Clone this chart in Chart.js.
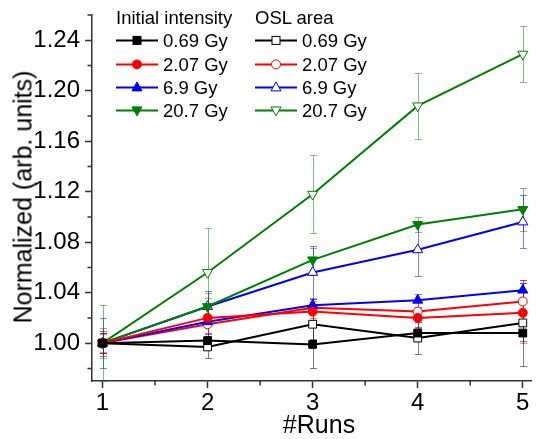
<!DOCTYPE html>
<html>
<head>
<meta charset="utf-8">
<script src="https://cdn.jsdelivr.net/npm/chart.js@4.4.1/dist/chart.umd.min.js"></script>
<style>
  html, body { margin: 0; padding: 0; background: #fff; overflow: hidden; }
  #wrap { position: relative; width: 538px; height: 439px; font-family: 'Liberation Sans', Arial, sans-serif; color: #000; }
  #chart { position: absolute; left: 0; top: 0; }
  .ytitle { position: absolute; left: 23px; top: 197px; font-size: 25px; line-height: 1; white-space: nowrap; transform: translate(-50%, -50%) rotate(-90deg); }
  .xtitle { position: absolute; left: 319px; top: 412px; font-size: 25px; line-height: 1; white-space: nowrap; transform: translateX(-50%); }
  .legend { position: absolute; left: 116px; top: 6px; font-size: 18.5px; line-height: 23.3px; }
  .col { position: absolute; top: 0; white-space: nowrap; }
  .row { display: flex; align-items: flex-start; height: 23.3px; }
  .row svg { flex: none; margin-right: 5px; }
</style>
</head>
<body>
<div id="wrap">
  <canvas id="chart" width="538" height="439"></canvas>
  <div class="ytitle">Normalized (arb. units)</div>
  <div class="xtitle">#Runs</div>
  <div class="legend" id="legend"></div>
</div>

<script>
// runs and dose labels
const runs = [1, 2, 3, 4, 5];
const doses = ['0.69 Gy', '2.07 Gy', '6.9 Gy', '20.7 Gy'];

// initial intensity (filled symbols)
const initial069 = [1.000, 1.002, 0.999, 1.008, 1.008];
const initial207 = [1.000, 1.020, 1.025, 1.020, 1.024];
const initial69  = [1.000, 1.017, 1.030, 1.034, 1.042];
const initial207Gy = [1.000, 1.029, 1.066, 1.094, 1.106];

// OSL area (open symbols)
const area069 = [1.000, 0.997, 1.015, 1.004, 1.016];
const area207 = [1.000, 1.015, 1.028, 1.025, 1.033];
const area69  = [1.000, 1.029, 1.056, 1.074, 1.096];
const area207Gy = [1.000, 1.056, 1.118, 1.188, 1.229];

// error bars (+/-)
const errInitial069 = [0.010, 0.006, 0.019, 0.005, 0.006];
const errInitial207 = [0.007, 0.016, 0.008, 0.008, 0.024];
const errInitial69  = [0.008, 0.010, 0.005, 0.005, 0.006];
const errInitial207Gy = [0.012, 0.011, 0.009, 0.006, 0.017];
const errArea069 = [0.008, 0.009, 0.012, 0.013, 0.034];
const errArea207 = [0.008, 0.012, 0.008, 0.008, 0.017];
const errArea69  = [0.020, 0.012, 0.021, 0.021, 0.021];
const errArea207Gy = [0.030, 0.035, 0.031, 0.026, 0.022];

// axis ticks
const xTicks = [1, 2, 3, 4, 5];
const xMinor = [1.5, 2.5, 3.5, 4.5];
const yTicks = [1.00, 1.04, 1.08, 1.12, 1.16, 1.20, 1.24];
const yMinor = [0.98, 1.02, 1.06, 1.10, 1.14, 1.18, 1.22, 1.26];

const colors = ['#000000', '#ff0000', '#0000ff', '#008000'];
const errColors = ['rgba(0,0,0,0.5)', 'rgba(255,0,0,0.5)', 'rgba(0,0,255,0.5)', 'rgba(0,128,0,0.5)'];
const markers = [
  { style: 'rect', radius: 5.5, rotation: 0 },
  { style: 'circle', radius: 4.5, rotation: 0 },
  { style: 'triangle', radius: 5.8, rotation: 0 },
  { style: 'triangle', radius: 5.8, rotation: 180 }
];

const initialSets = [initial069, initial207, initial69, initial207Gy];
const areaSets = [area069, area207, area69, area207Gy];
const initialErrs = [errInitial069, errInitial207, errInitial69, errInitial207Gy];
const areaErrs = [errArea069, errArea207, errArea69, errArea207Gy];

function makeSet(values, errs, i, filled) {
  const m = markers[i];
  return {
    label: doses[i],
    data: values.map((v, j) => ({ x: runs[j], y: v })),
    errors: errs,
    errorColor: errColors[i],
    borderColor: colors[i],
    borderWidth: 2,
    backgroundColor: filled ? colors[i] : '#ffffff',
    pointStyle: m.style,
    pointRadius: m.radius,
    pointRotation: m.rotation,
    pointBorderWidth: 1,
    pointBorderColor: colors[i],
    pointBackgroundColor: filled ? colors[i] : '#ffffff',
    tension: 0,
    fill: false
  };
}

const datasets = [];
for (let i = 0; i < 4; i++) datasets.push(makeSet(initialSets[i], initialErrs[i], i, true));
for (let i = 0; i < 4; i++) datasets.push(makeSet(areaSets[i], areaErrs[i], i, false));

// vertical error bars with caps, drawn under the lines
const errorBars = {
  id: 'errorBars',
  beforeDatasetsDraw(chart) {
    const { ctx, scales: { x, y } } = chart;
    ctx.save();
    ctx.lineWidth = 1;
    chart.data.datasets.forEach(ds => {
      ctx.strokeStyle = ds.errorColor;
      ds.data.forEach((p, j) => {
        const e = ds.errors[j];
        const px = Math.round(x.getPixelForValue(p.x)) + 0.5;
        const top = Math.round(y.getPixelForValue(p.y + e)) + 0.5;
        const bot = Math.round(y.getPixelForValue(p.y - e)) + 0.5;
        ctx.beginPath();
        ctx.moveTo(px, top); ctx.lineTo(px, bot);
        ctx.moveTo(px - 3.5, top); ctx.lineTo(px + 3.5, top);
        ctx.moveTo(px - 3.5, bot); ctx.lineTo(px + 3.5, bot);
        ctx.stroke();
      });
    });
    ctx.restore();
  }
};

// short minor ticks outside both axes
const minorTicks = {
  id: 'minorTicks',
  afterDraw(chart) {
    const { ctx, scales: { x, y }, chartArea } = chart;
    ctx.save();
    ctx.strokeStyle = '#333';
    ctx.lineWidth = 1.5;
    ctx.beginPath();
    xMinor.forEach(v => {
      const px = x.getPixelForValue(v);
      ctx.moveTo(px, chartArea.bottom); ctx.lineTo(px, chartArea.bottom + 4.5);
    });
    yMinor.forEach(v => {
      const py = y.getPixelForValue(v);
      ctx.moveTo(chartArea.left, py); ctx.lineTo(chartArea.left - 4.5, py);
    });
    ctx.stroke();
    ctx.restore();
  }
};

Chart.defaults.font.family = "'Liberation Sans', Arial, sans-serif";
Chart.defaults.color = '#000';

new Chart(document.getElementById('chart'), {
  type: 'line',
  data: { datasets },
  options: {
    responsive: false,
    animation: false,
    layout: { padding: { top: 15, right: 0, left: 0, bottom: 0 } },
    plugins: { legend: { display: false }, tooltip: { enabled: false } },
    scales: {
      x: {
        type: 'linear',
        min: 0.9,
        max: 5.08,
        afterBuildTicks: s => { s.ticks = xTicks.map(v => ({ value: v })); },
        afterFit: s => { s.height = 58; s.paddingLeft = 0; s.paddingRight = 0; },
        ticks: { font: { size: 24 }, padding: 1, maxRotation: 0, callback: v => String(v) },
        grid: { drawOnChartArea: false, tickLength: 7, tickColor: '#333', tickWidth: 1.5 },
        border: { color: '#333', width: 1.5 }
      },
      y: {
        min: 0.97,
        max: 1.26,
        afterBuildTicks: s => { s.ticks = yTicks.map(v => ({ value: v })); },
        afterFit: s => { s.width = 92; s.paddingTop = 0; s.paddingBottom = 0; },
        ticks: { font: { size: 24 }, padding: 5, callback: v => v.toFixed(2) },
        grid: { drawOnChartArea: false, tickLength: 7, tickColor: '#333', tickWidth: 1.5 },
        border: { color: '#333', width: 1.5 }
      }
    }
  },
  plugins: [errorBars, minorTicks]
});

// two-column legend: filled symbols for initial intensity, open for OSL area
function markerSvg(i, filled) {
  const c = colors[i], f = filled ? c : '#fff';
  const cx = 21, cy = 11.4;
  let shape;
  if (i === 0) shape = `<rect x="${cx - 4}" y="${cy - 4}" width="8" height="8" fill="${f}" stroke="${c}" stroke-width="1"/>`;
  else if (i === 1) shape = `<circle cx="${cx}" cy="${cy}" r="4.5" fill="${f}" stroke="${c}" stroke-width="1"/>`;
  else if (i === 2) shape = `<polygon points="${cx},${cy - 5.5} ${cx + 5},${cy + 3.5} ${cx - 5},${cy + 3.5}" fill="${f}" stroke="${c}" stroke-width="1"/>`;
  else shape = `<polygon points="${cx},${cy + 5.5} ${cx + 5},${cy - 3.5} ${cx - 5},${cy - 3.5}" fill="${f}" stroke="${c}" stroke-width="1"/>`;
  return `<svg width="42" height="23.3"><line x1="0" y1="${cy}" x2="42" y2="${cy}" stroke="${c}" stroke-width="2"/>${shape}</svg>`;
}

const legend = document.getElementById('legend');
[['Initial intensity', true, 0], ['OSL area', false, 139]].forEach(([title, filled, left]) => {
  let html = `<div>${title}</div>`;
  doses.forEach((d, i) => { html += `<div class="row">${markerSvg(i, filled)}<span>${d}</span></div>`; });
  const col = document.createElement('div');
  col.className = 'col';
  col.style.left = left + 'px';
  col.innerHTML = html;
  legend.appendChild(col);
});
</script>
</body>
</html>
